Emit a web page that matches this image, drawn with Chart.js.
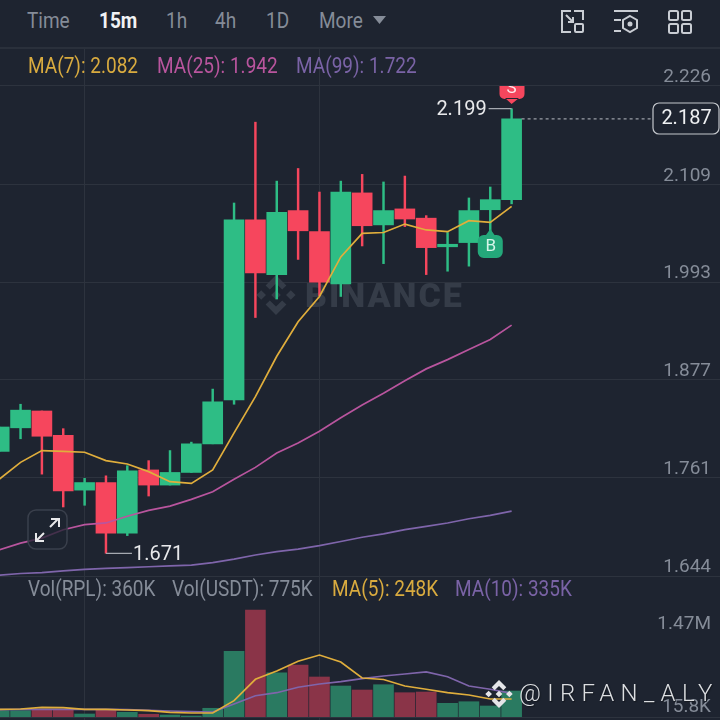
<!DOCTYPE html>
<html>
<head>
<meta charset="utf-8">
<script src="https://cdn.jsdelivr.net/npm/chart.js@4"></script>
<style>
html, body { margin: 0; padding: 0; background: #1e2430; }
#wrap { position: relative; width: 720px; height: 720px; overflow: hidden; font-family: Roboto, sans-serif; }
#chart { position: absolute; left: 0; top: 0; }
#head { position: absolute; left: 0; top: 0; width: 720px; height: 47px; background: #1e2430; border-bottom: 2px solid #2a303b; }
.t { position: absolute; white-space: pre; transform: translateY(-50%) scaleY(1.12); font-size: 19px; line-height: 24px; color: #858c98; }
.y { color: #d9ab3f; } .m { color: #b9559e; } .p { color: #7a63a6; }
#tag { position: absolute; left: 519px; top: 693px; transform: translateY(-50%); font-size: 24px; font-weight: 300; letter-spacing: 6.3px; color: #dcdee1; text-shadow: 1px 1px 1px #14181f; white-space: pre; }
#icons { position: absolute; left: 0; top: 0; }
</style>
</head>
<body>
<div id="wrap">
  <canvas id="chart" width="720" height="720"></canvas>
  <div id="head">
    <span class="t" style="left:27px;top:21px">Time</span>
    <span class="t" style="left:99px;top:21px;color:#f1f2f4;font-weight:700">15m</span>
    <span class="t" style="left:166px;top:21px">1h</span>
    <span class="t" style="left:215px;top:21px">4h</span>
    <span class="t" style="left:266px;top:21px">1D</span>
    <span class="t" style="left:319px;top:21px">More</span>
    <svg id="icons" width="720" height="47" fill="none" stroke="#c9cdd3" stroke-width="2">
      <path d="M373 16h13l-6.500 8z" fill="#858c98" stroke="none"/>
      <path d="M571 11h-9v21h9M574 11h9v9M566 15l7 7M573 17v5h-5"/>
      <rect x="575" y="24" width="8" height="8" rx="1"/>
      <path d="M614 11h24M614 20h7M614 31h7M630 16l7 4v8l-7 4l-7-4v-8z"/>
      <circle cx="630" cy="24" r="1.500" fill="#c9cdd3"/>
      <rect x="669" y="11" width="9" height="9" rx="1.500"/><rect x="682" y="11" width="9" height="9" rx="1.500"/>
      <rect x="669" y="24" width="9" height="9" rx="1.500"/><rect x="682" y="24" width="9" height="9" rx="1.500"/>
    </svg>
  </div>
  <span class="t y" style="left:28px;top:66px">MA(7): 2.082</span>
  <span class="t m" style="left:157px;top:66px">MA(25): 1.942</span>
  <span class="t p" style="left:296px;top:66px">MA(99): 1.722</span>
  <span class="t" style="left:28px;top:589px">Vol(RPL): 360K</span>
  <span class="t" style="left:172px;top:589px">Vol(USDT): 775K</span>
  <span class="t y" style="left:332px;top:589px">MA(5): 248K</span>
  <span class="t p" style="left:455px;top:589px">MA(10): 335K</span>
  <span id="tag">@IRFAN_ALY</span>
</div>
<script>
const slots = [0,1,2,3,4,5,6,7,8,9,10,11,12,13,14,15,16,17,18,19,20,21,22,23,24];
const opens = [1.792,1.820,1.840,1.811,1.746,1.755,1.695,1.770,1.752,1.767,1.801,1.853,2.067,2.002,2.078,2.053,1.991,2.099,2.061,2.080,2.069,2.035,2.040,2.079,2.091];
const highs = [1.821,1.848,1.840,1.819,1.760,1.763,1.775,1.781,1.793,1.803,1.866,2.087,2.183,2.113,2.128,2.100,2.113,2.121,2.112,2.119,2.072,2.052,2.093,2.106,2.199];
const lows = [1.792,1.807,1.765,1.726,1.728,1.671,1.692,1.739,1.752,1.767,1.801,1.848,1.951,1.973,2.020,1.977,1.976,2.036,2.015,2.059,2.002,2.006,2.012,2.053,2.086];
const closes = [1.821,1.841,1.810,1.745,1.755,1.695,1.769,1.752,1.767,1.801,1.851,2.067,2.004,2.076,2.054,1.993,2.100,2.060,2.078,2.068,2.034,2.038,2.078,2.091,2.187];
const ma7 = [1.759,1.779,1.793,1.792,1.791,1.781,1.777,1.768,1.756,1.754,1.770,1.814,1.857,1.905,1.946,1.976,2.023,2.051,2.052,2.062,2.055,2.053,2.066,2.064,2.083];
const ma25 = [1.675,1.683,1.689,1.699,1.705,1.707,1.715,1.722,1.727,1.735,1.744,1.759,1.773,1.790,1.802,1.816,1.832,1.847,1.861,1.876,1.890,1.901,1.913,1.925,1.942];
const ma99 = [1.645,1.647,1.648,1.650,1.652,1.653,1.654,1.655,1.656,1.657,1.660,1.664,1.669,1.673,1.676,1.680,1.685,1.690,1.694,1.699,1.703,1.707,1.712,1.716,1.721];
const volumes = [109,109,133,133,51,121,81,46,33,16,151,1149,1873,774,909,699,541,471,564,424,436,238,266,191,454];
const volMa5 = [133,138,168,161,133,133,121,109,81,68,68,284,659,804,974,1084,962,682,655,541,484,424,384,314,314];
const volMa10 = [126,133,133,133,133,133,126,116,103,91,86,226,371,424,519,576,617,669,717,752,787,704,541,484,413];
const priceTicks = [2.226,2.109,1.993,1.877,1.761,1.644];
const volTicks = [1470,15.8];
const volTickLabels = ['1.47M','15.8K'];
const gridSlots = [4,15];

const green = '#2ebd85', red = '#f6465d', volGreen = '#2a7a61', volRed = '#8a3448';
const grid = '#2d333e';
const tickFont = { family: 'Roboto, sans-serif', size: 19 };

const isUp = i => closes[i] >= opens[i];
const pts = arr => slots.map((s, i) => ({ x: s, y: arr[i] }));

function lineSet(arr, color, axis) {
  return { type: 'line', data: pts(arr), borderColor: color, borderWidth: 1.7, pointRadius: 0, tension: 0, yAxisID: axis, order: 1 };
}

function logo(ctx, cx, cy, r, color) {
  const diamond = (x, y, s) => {
    ctx.moveTo(cx + x * r, cy + (y - s) * r);
    ctx.lineTo(cx + (x + s) * r, cy + y * r);
    ctx.lineTo(cx + x * r, cy + (y + s) * r);
    ctx.lineTo(cx + (x - s) * r, cy + y * r);
    ctx.closePath();
  };
  const chevron = d => {
    ctx.moveTo(cx, cy + d * r);
    ctx.lineTo(cx + 0.52 * r, cy + d * 0.48 * r);
    ctx.lineTo(cx + 0.31 * r, cy + d * 0.27 * r);
    ctx.lineTo(cx, cy + d * 0.58 * r);
    ctx.lineTo(cx - 0.31 * r, cy + d * 0.27 * r);
    ctx.lineTo(cx - 0.52 * r, cy + d * 0.48 * r);
    ctx.closePath();
  };
  ctx.fillStyle = color;
  ctx.beginPath();
  diamond(0, 0, 0.24);
  diamond(-0.74, 0, 0.24);
  diamond(0.74, 0, 0.24);
  chevron(-1);
  chevron(1);
  ctx.fill();
}

const watermark = {
  id: 'watermark',
  beforeDatasetsDraw(c) {
    const ctx = c.ctx;
    ctx.save();
    logo(ctx, 276, 295, 20, '#353c48');
    ctx.fillStyle = '#353c48';
    ctx.font = '900 34px Roboto, sans-serif';
    ctx.letterSpacing = '2px';
    ctx.textBaseline = 'middle';
    ctx.fillText('BINANCE', 305, 298);
    ctx.restore();
  }
};

const overlay = {
  id: 'overlay',
  afterDraw(c) {
    const ctx = c.ctx, x = c.scales.x, y = c.scales.y;
    const last = slots.length - 1;
    ctx.save();
    ctx.textBaseline = 'middle';

    // high / low call-outs
    const hiX = x.getPixelForValue(slots[last]), hiY = y.getPixelForValue(highs[last]);
    const loX = x.getPixelForValue(slots[5]), loY = y.getPixelForValue(lows[5]);
    ctx.strokeStyle = '#a5a9b0';
    ctx.lineWidth = 1.2;
    ctx.beginPath();
    ctx.moveTo(hiX, hiY); ctx.lineTo(hiX - 23, hiY);
    ctx.moveTo(loX, loY); ctx.lineTo(loX + 26, loY);
    ctx.stroke();
    ctx.fillStyle = '#e8e9eb';
    ctx.font = '20px Roboto, sans-serif';
    ctx.textAlign = 'right';
    ctx.fillText(highs[last].toFixed(3), hiX - 25, hiY + 1);
    ctx.textAlign = 'left';
    ctx.fillText(lows[5].toFixed(3), loX + 27, loY + 2);

    // last price line and box
    const lastY = y.getPixelForValue(closes[last]);
    ctx.strokeStyle = '#9a9ea6';
    ctx.setLineDash([3, 3]);
    ctx.beginPath();
    ctx.moveTo(hiX + 10, lastY); ctx.lineTo(652, lastY);
    ctx.stroke();
    ctx.setLineDash([]);
    ctx.fillStyle = '#1e2430';
    ctx.strokeStyle = '#c4c7cc';
    ctx.beginPath();
    ctx.roundRect(653, 103, 66, 31, 6);
    ctx.fill();
    ctx.stroke();
    ctx.fillStyle = '#eef0f2';
    ctx.textAlign = 'center';
    ctx.fillText(closes[last].toFixed(3), 686.5, 119);

    // S marker, cut by the top line of the pane
    ctx.save();
    ctx.beginPath();
    ctx.rect(480, y.getPixelForValue(priceTicks[0]), 60, 40);
    ctx.clip();
    ctx.fillStyle = red;
    ctx.beginPath();
    ctx.roundRect(499.5, 72, 25, 27, 5);
    ctx.moveTo(505, 98); ctx.lineTo(hiX, 104); ctx.lineTo(519, 98);
    ctx.fill();
    ctx.fillStyle = '#ffe9ec';
    ctx.font = '17px Roboto, sans-serif';
    ctx.fillText('S', hiX, 89);
    ctx.restore();

    // B marker under candle 23
    const bX = x.getPixelForValue(slots[23]);
    ctx.fillStyle = '#24a87a';
    ctx.beginPath();
    ctx.roundRect(bX - 12.5, 235, 25, 23, 6);
    ctx.moveTo(bX - 5, 236); ctx.lineTo(bX, 229); ctx.lineTo(bX + 5, 236);
    ctx.fill();
    ctx.fillStyle = '#d6f5e9';
    ctx.font = '17px Roboto, sans-serif';
    ctx.fillText('B', bX + 0.5, 247);

    // expand button
    ctx.fillStyle = 'rgba(30,36,48,0.75)';
    ctx.strokeStyle = '#3a404c';
    ctx.lineWidth = 1.5;
    ctx.beginPath();
    ctx.roundRect(28, 510, 39, 39, 8);
    ctx.fill();
    ctx.stroke();
    ctx.strokeStyle = '#e8e9eb';
    ctx.lineWidth = 2;
    ctx.beginPath();
    ctx.moveTo(37, 540); ctx.lineTo(44, 533);
    ctx.moveTo(36, 533); ctx.lineTo(36, 541); ctx.lineTo(44, 541);
    ctx.moveTo(50, 527); ctx.lineTo(58, 519);
    ctx.moveTo(51, 519); ctx.lineTo(59, 519); ctx.lineTo(59, 527);
    ctx.stroke();

    // bottom edge and credit logo
    ctx.strokeStyle = grid;
    ctx.lineWidth = 1;
    ctx.beginPath();
    ctx.moveTo(0, 717.5); ctx.lineTo(720, 717.5);
    ctx.stroke();
    logo(ctx, 499, 694, 14, '#e4e5e8');
    ctx.restore();
  }
};

new Chart(document.getElementById('chart'), {
  type: 'bar',
  data: {
    datasets: [
      lineSet(ma7, '#e0ae3c', 'y'),
      lineSet(ma25, '#b9559e', 'y'),
      lineSet(ma99, '#7f65ab', 'y'),
      lineSet(volMa5, '#e0ae3c', 'yVol'),
      lineSet(volMa10, '#7f65ab', 'yVol'),
      {
        data: slots.map((s, i) => ({ x: s, y: [opens[i], closes[i]] })),
        backgroundColor: slots.map((s, i) => isUp(i) ? green : red),
        barThickness: 20, grouped: false, yAxisID: 'y', order: 2
      },
      {
        data: slots.map((s, i) => ({ x: s, y: [lows[i], highs[i]] })),
        backgroundColor: slots.map((s, i) => isUp(i) ? green : red),
        barThickness: 1.8, grouped: false, yAxisID: 'y', order: 3
      },
      {
        data: pts(volumes),
        backgroundColor: slots.map((s, i) => isUp(i) ? volGreen : volRed),
        barThickness: 20, grouped: false, yAxisID: 'yVol', order: 4
      }
    ]
  },
  options: {
    responsive: false,
    animation: false,
    events: [],
    layout: { padding: 0 },
    plugins: { legend: { display: false }, tooltip: { enabled: false } },
    scales: {
      x: {
        type: 'linear', min: 0.0375, max: 33.76, offset: false,
        border: { display: false },
        grid: { color: grid, drawTicks: false, offset: false },
        ticks: { display: false },
        afterBuildTicks: s => { s.ticks = gridSlots.map(v => ({ value: v })); },
        afterFit: s => { s.height = 0; s.paddingLeft = s.paddingRight = 0; }
      },
      y: {
        position: 'right', min: 1.4730, max: 2.3281,
        border: { display: false },
        grid: { color: grid, drawTicks: false },
        ticks: { mirror: true, padding: -9, labelOffset: -8.5, color: '#858c98', font: tickFont, autoSkip: false, callback: v => v.toFixed(3) },
        afterBuildTicks: s => { s.ticks = priceTicks.map(v => ({ value: v })); },
        afterFit: s => { s.width = 0; s.paddingTop = s.paddingBottom = 0; }
      },
      yVol: {
        position: 'right', min: -54.3, max: 12560,
        border: { display: false },
        grid: { display: false },
        ticks: { mirror: true, padding: -9, labelOffset: -8.5, color: '#858c98', font: tickFont, autoSkip: false, callback: v => volTickLabels[volTicks.indexOf(v)] },
        afterBuildTicks: s => { s.ticks = volTicks.map(v => ({ value: v })); },
        afterFit: s => { s.width = 0; s.paddingTop = s.paddingBottom = 0; }
      }
    }
  },
  plugins: [watermark, overlay]
});
</script>
</body>
</html>
